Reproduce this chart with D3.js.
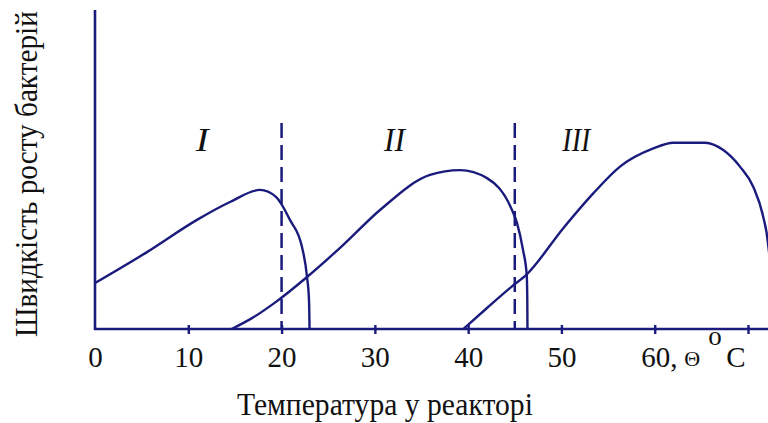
<!DOCTYPE html>
<html>
<head>
<meta charset="utf-8">
<script src="https://cdn.jsdelivr.net/npm/d3@7"></script>
<style>
  html, body { margin: 0; padding: 0; background: #fff; }
  svg { display: block; }
  svg text { font-family: "Liberation Serif", "Tinos", "Times New Roman", "DejaVu Serif", serif; fill: #111; }
</style>
</head>
<body>
<svg id="chart" width="768" height="423"></svg>
<script>
// Temperature axis ticks (°C) and zone boundaries
const tickValues = [0, 10, 20, 30, 40, 50, 60, 70];
const zoneBounds = [20, 45];
const zoneLabels = ["I", "II", "III"];
const zoneLabelAt = [11.5, 32.1, 51.6];

// Growth-rate curves: [temperature, relative rate]
const psychrophiles = [
  [0, 14.4], [5.57, 24.1], [10.93, 34.2], [14.47, 39.8], [17.69, 43.6],
  [19.4, 41.4], [20.9, 34.2], [22.19, 25.7], [22.73, 16.3], [22.94, 9.1], [23.0, 0]
];
const mesophiles = [
  [14.65, 0], [16.83, 3.4], [19.4, 8.5], [22.73, 16.3], [26.59, 26.3],
  [30.55, 37.3], [35.91, 48.3], [39.13, 49.8], [42.02, 47.3], [44.7, 37.3],
  [45.24, 33.2], [45.88, 24.8], [46.28, 16.9], [46.34, 9.1], [46.36, 0]
];
const thermophiles = [
  [39.48, 0], [41.99, 6.5], [44.67, 13.3], [46.2, 16.9], [50.2, 31.6],
  [53.41, 42.5], [56.28, 50.9], [59.85, 56.6], [61.99, 58.4], [65.39, 58.4],
  [67.35, 56.1], [69.14, 50.9], [70.56, 44.6], [71.63, 35.2], [72.14, 27.0],
  [72.46, 15.4], [72.62, 0]
];
const dashTop = 64.6;

const ink = "#1b1b7d";
const serif = '"Liberation Serif", "Tinos", "Times New Roman", "DejaVu Serif", serif';
const svg = d3.select("#chart");

const x = d3.scaleLinear().domain([0, 70]).range([95, 748]);
const y = d3.scaleLinear().domain([0, 100]).range([329, 10]);

// Axes
svg.append("line")
  .attr("x1", x(0)).attr("x2", x(0))
  .attr("y1", y(0) + 1).attr("y2", y(100))
  .attr("stroke", ink).attr("stroke-width", 2.6);

svg.append("line")
  .attr("x1", x(0) - 1).attr("x2", 768)
  .attr("y1", y(0)).attr("y2", y(0))
  .attr("stroke", ink).attr("stroke-width", 2.6);

const xAxis = svg.append("g")
  .attr("transform", `translate(0,${y(0)})`)
  .call(d3.axisBottom(x).tickValues(tickValues).tickSize(5)
    .tickFormat(d => d === 70 ? "" : d))
  .attr("font-family", serif)
  .attr("font-size", 29);
xAxis.select(".domain").remove();
xAxis.selectAll(".tick line")
  .attr("y1", -4).attr("y2", 5)
  .attr("stroke", ink).attr("stroke-width", 2.4)
  .attr("display", d => d === 0 ? "none" : null);
xAxis.selectAll(".tick text")
  .attr("y", 38).attr("dy", 0)
  .attr("fill", "#111");

// "60, Θ°C" unit label on the 60 tick
const t60 = xAxis.selectAll(".tick text").filter(d => d === 60);
t60.text(null).attr("text-anchor", "start");
t60.append("tspan").attr("x", -14).text("60,");
t60.append("tspan").attr("x", 29).attr("dy", -1).style("font-size", "22px").text("Θ");
t60.append("tspan").attr("x", 53).attr("dy", -21).style("font-size", "27px").text("o");
t60.append("tspan").attr("x", 71).attr("dy", 22).text("C");

// Zone boundaries
svg.selectAll(".bound")
  .data(zoneBounds)
  .join("line")
  .attr("class", "bound")
  .attr("x1", d => x(d)).attr("x2", d => x(d))
  .attr("y1", y(dashTop)).attr("y2", y(0))
  .attr("stroke", ink).attr("stroke-width", 2.5)
  .attr("stroke-dasharray", "15 7");

// Growth curves
const line = d3.line()
  .x(d => x(d[0]))
  .y(d => y(d[1]))
  .curve(d3.curveMonotoneX);

svg.selectAll(".curve")
  .data([psychrophiles, mesophiles, thermophiles])
  .join("path")
  .attr("class", "curve")
  .attr("d", line)
  .attr("fill", "none")
  .attr("stroke", ink)
  .attr("stroke-width", 2.4)
  .attr("stroke-linejoin", "round");

// Zone numerals
const zoneWidths = { "I": 13, "II": 21, "III": 28 };
svg.selectAll(".zone")
  .data(zoneLabels)
  .join("text")
  .attr("class", "zone")
  .attr("x", (d, i) => x(zoneLabelAt[i]))
  .attr("y", 151)
  .attr("text-anchor", "middle")
  .style("font-style", "italic")
  .style("font-size", "34px")
  .attr("textLength", d => zoneWidths[d])
  .attr("lengthAdjust", "spacingAndGlyphs")
  .text(d => d);

// Axis titles, narrowed along the reading direction to fit their span
function fitText(sel, len) {
  const natural = sel.node().getComputedTextLength();
  return natural > 0 ? len / natural : 1;
}

const xTitle = svg.append("text")
  .style("font-size", "32px")
  .text("Температура у реакторі");
const kx = fitText(xTitle, 296);
xTitle.attr("transform", `translate(237,415) scale(${kx},1)`);

const yTitle = svg.append("text")
  .style("font-size", "32px")
  .text("Швидкість росту бактерій");
const ky = fitText(yTitle, 326);
yTitle.attr("transform", `translate(37,337) rotate(-90) scale(${ky},1)`);
</script>
</body>
</html>
